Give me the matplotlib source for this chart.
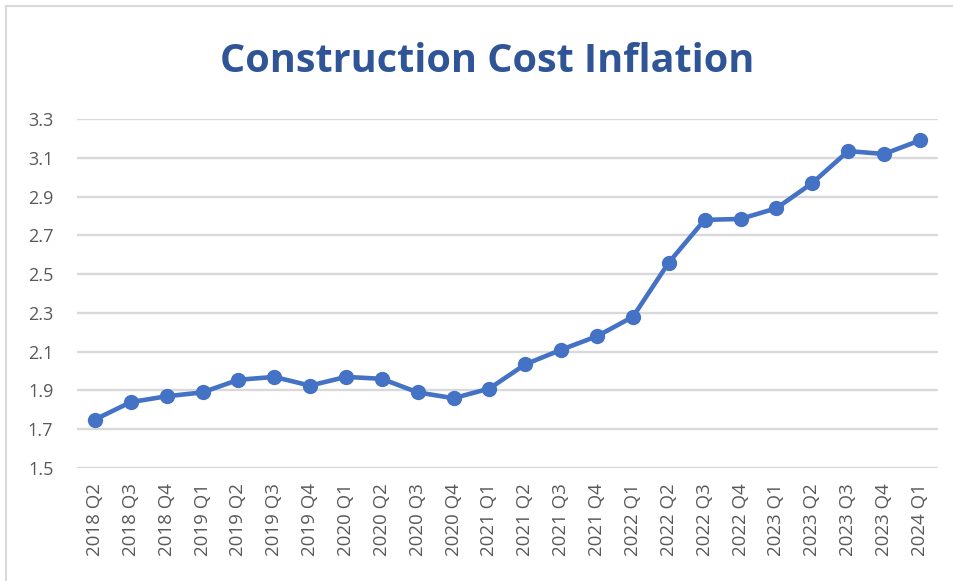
import matplotlib.pyplot as plt
from matplotlib.lines import Line2D

quarters = [
    '2018 Q2', '2018 Q3', '2018 Q4',
    '2019 Q1', '2019 Q2', '2019 Q3', '2019 Q4',
    '2020 Q1', '2020 Q2', '2020 Q3', '2020 Q4',
    '2021 Q1', '2021 Q2', '2021 Q3', '2021 Q4',
    '2022 Q1', '2022 Q2', '2022 Q3', '2022 Q4',
    '2023 Q1', '2023 Q2', '2023 Q3', '2023 Q4',
    '2024 Q1',
]
inflation = [
    1.75, 1.84, 1.87,
    1.89, 1.955, 1.97, 1.925,
    1.97, 1.96, 1.89, 1.86,
    1.91, 2.035, 2.11, 2.18,
    2.28, 2.56, 2.78, 2.785,
    2.84, 2.97, 3.135, 3.12,
    3.19,
]
y_ticks = [1.5, 1.7, 1.9, 2.1, 2.3, 2.5, 2.7, 2.9, 3.1, 3.3]

line_color = '#4472C4'
grid_color = '#D9D9D9'
text_color = '#595959'


def main() -> None:
    fig = plt.figure(figsize=(9.54, 5.81), dpi=100)
    ax = fig.add_axes([0.0807, 0.1945, 0.9023, 0.6005])

    x = list(range(len(quarters)))
    ax.plot(x, inflation, color=line_color, linewidth=3.3,
            marker='o', markersize=10, zorder=3)

    ax.set_xlim(-0.5, len(quarters) - 0.5)
    ax.set_ylim(1.5, 3.3)
    ax.set_yticks(y_ticks)
    ax.set_yticklabels([f'{v:.1f}' for v in y_ticks])
    ax.set_xticks(x)
    ax.set_xticklabels(quarters, rotation=90)

    ax.grid(axis='y', color=grid_color, linewidth=1.7)
    ax.set_axisbelow(True)
    for side in ax.spines.values():
        side.set_visible(False)
    ax.tick_params(axis='both', length=0, colors=text_color)
    ax.tick_params(axis='y', pad=17, labelsize=13)
    ax.tick_params(axis='x', pad=11, labelsize=13.5)
    for lbl in ax.get_xticklabels() + ax.get_yticklabels():
        lbl.set_fontfamily('Open Sans')

    fig.text(0.511, 0.895, 'Construction Cost Inflation', ha='center', va='center',
             fontsize=28.5, fontweight='bold', color='#2F5597', family='Open Sans')

    # chart frame (top and left edges visible in the crop)
    fig.add_artist(Line2D([6 / 954, 1.0], [1 - 6 / 581, 1 - 6 / 581],
                          transform=fig.transFigure, color=grid_color, linewidth=1.5))
    fig.add_artist(Line2D([6 / 954, 6 / 954], [0.0, 1 - 6 / 581],
                          transform=fig.transFigure, color=grid_color, linewidth=1.5))

    fig.savefig('out.png', dpi=100)


if __name__ == '__main__':
    main()
